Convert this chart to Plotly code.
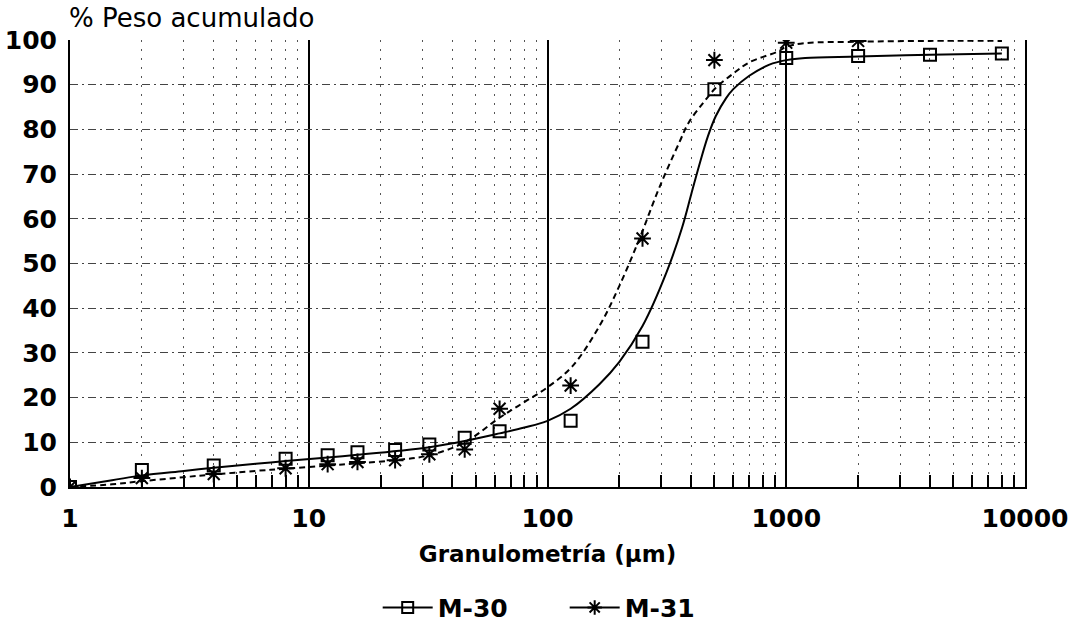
import plotly.graph_objects as go

# Measured points (sieve size in µm, cumulative weight %)
m30_x = [1, 2, 4, 8, 12, 16, 23, 32, 45, 63, 125, 250, 500, 1000, 2000, 4000, 8000]
m30_y = [0, 3.8, 4.8, 6.3, 7.1, 7.8, 8.3, 9.5, 11.0, 12.5, 14.8, 32.5, 89.0, 96.0, 96.4, 96.7, 97.0]

m31_x = [1, 2, 4, 8, 12, 16, 23, 32, 45, 63, 125, 250, 500, 1000, 2000]
m31_y = [0, 2.0, 2.9, 4.2, 5.1, 5.6, 6.0, 7.3, 8.4, 17.5, 22.7, 55.6, 95.5, 99.4, 99.8]

# Fitted curves
fit30_x = [1, 1.5, 2, 3, 4, 6, 8, 12, 16, 24, 32, 45, 63, 80, 100, 125, 165, 200,
           250, 315, 366, 400, 432, 470, 507, 560, 600, 700, 850, 1000, 1200, 2000,
           4000, 8000]
fit30_y = [0, 1.5, 2.6, 3.6, 4.3, 5.2, 5.8, 6.6, 7.2, 8.1, 8.9, 10.3, 12.0, 13.3, 14.8,
           17.5, 23.0, 28.0, 36.0, 48.0, 58.0, 65.5, 72.0, 78.5, 83.0, 87.0, 89.0, 92.0,
           94.5, 95.5, 96.0, 96.3, 96.7, 97.0]

fit31_x = [1, 1.5, 2, 3, 4, 6, 8, 12, 16, 24, 32, 45, 63, 80, 100, 127, 165, 200,
           243, 294, 356, 390, 450, 507, 600, 700, 930, 1000, 1200, 2000, 4000, 8000]
fit31_y = [0, 0.6, 1.3, 2.2, 2.8, 3.6, 4.1, 4.8, 5.3, 6.1, 7.1, 10.0, 15.5, 19.0, 22.3,
           27.0, 36.0, 45.0, 55.6, 67.0, 77.0, 81.5, 86.0, 89.3, 92.5, 95.0, 97.5, 98.5,
           99.3, 99.6, 99.8, 99.8]

decades = [1, 10, 100, 1000, 10000]
decade_labels = ["1", "10", "100", "1000", "10000"]
minor_vals = [m * d for d in [1, 10, 100, 1000] for m in range(2, 10)]

ink = "black"
label_font = dict(family="DejaVu Sans", size=25, color=ink, weight="bold")

fig = go.Figure()

fig.add_trace(go.Scatter(x=fit30_x, y=fit30_y, mode="lines", showlegend=False,
                         line=dict(color=ink, width=2, shape="spline", smoothing=1.0),
                         hoverinfo="skip"))
fig.add_trace(go.Scatter(x=fit31_x, y=fit31_y, mode="lines", showlegend=False,
                         line=dict(color=ink, width=2, dash="6px,4px", shape="spline",
                                   smoothing=1.0),
                         hoverinfo="skip"))

fig.add_trace(go.Scatter(x=m30_x, y=m30_y, mode="markers", showlegend=False,
                         marker=dict(symbol="square-open", size=12, color=ink,
                                     line=dict(width=2, color=ink))))
fig.add_trace(go.Scatter(x=m31_x, y=m31_y, mode="markers", showlegend=False,
                         marker=dict(symbol="asterisk-open", size=14, color=ink,
                                     line=dict(width=2, color=ink))))

# Legend entries (line with marker in the middle)
fig.add_trace(go.Scatter(x=[None], y=[None], mode="lines+markers", name="M-30",
                         line=dict(color=ink, width=2),
                         marker=dict(symbol="square-open", size=11, color=ink,
                                     line=dict(width=2, color=ink))))
fig.add_trace(go.Scatter(x=[None], y=[None], mode="lines+markers", name="M-31",
                         line=dict(color=ink, width=2),
                         marker=dict(symbol="asterisk-open", size=12, color=ink,
                                     line=dict(width=2, color=ink))))

fig.update_xaxes(
    type="log", range=[0, 4], automargin=False,
    tickmode="array", tickvals=decades, ticktext=decade_labels,
    ticks="", ticklabelstandoff=8, tickfont=label_font,
    showgrid=True, gridcolor=ink, gridwidth=2,
    showline=True, linecolor=ink, linewidth=2, mirror=False,
    zeroline=False,
    minor=dict(tickmode="array", tickvals=minor_vals, ticks="inside", ticklen=12,
               tickwidth=2, tickcolor=ink, showgrid=True, gridcolor="#555",
               griddash="2px,7px", gridwidth=1),
    title=dict(text="Granulometría (µm)", standoff=14,
               font=dict(family="DejaVu Sans", size=23, color=ink, weight="bold")),
)
fig.update_yaxes(
    range=[0, 100], tickmode="array", tickvals=list(range(0, 101, 10)),
    automargin=False,
    ticks="", ticklabelstandoff=6, tickfont=label_font,
    showgrid=True, gridcolor="#444", gridwidth=1, griddash="8px,4px,2px,4px",
    showline=True, linecolor=ink, linewidth=2, mirror=True,
    zeroline=False,
)

fig.add_annotation(text="% Peso acumulado", xref="paper", yref="paper",
                   x=-0.003, y=1.05, xanchor="left", yanchor="middle", showarrow=False,
                   font=dict(family="DejaVu Sans", size=26, color=ink))

fig.update_layout(
    width=1074, height=643,
    margin=dict(l=70, r=49, t=40, b=153),
    paper_bgcolor="white", plot_bgcolor="white",
    legend=dict(orientation="h", x=0.518, xanchor="center", y=-0.27, yanchor="middle",
                font=label_font, itemwidth=50, entrywidth=122,
                bgcolor="rgba(0,0,0,0)"),
)

fig.write_html("out.html")
